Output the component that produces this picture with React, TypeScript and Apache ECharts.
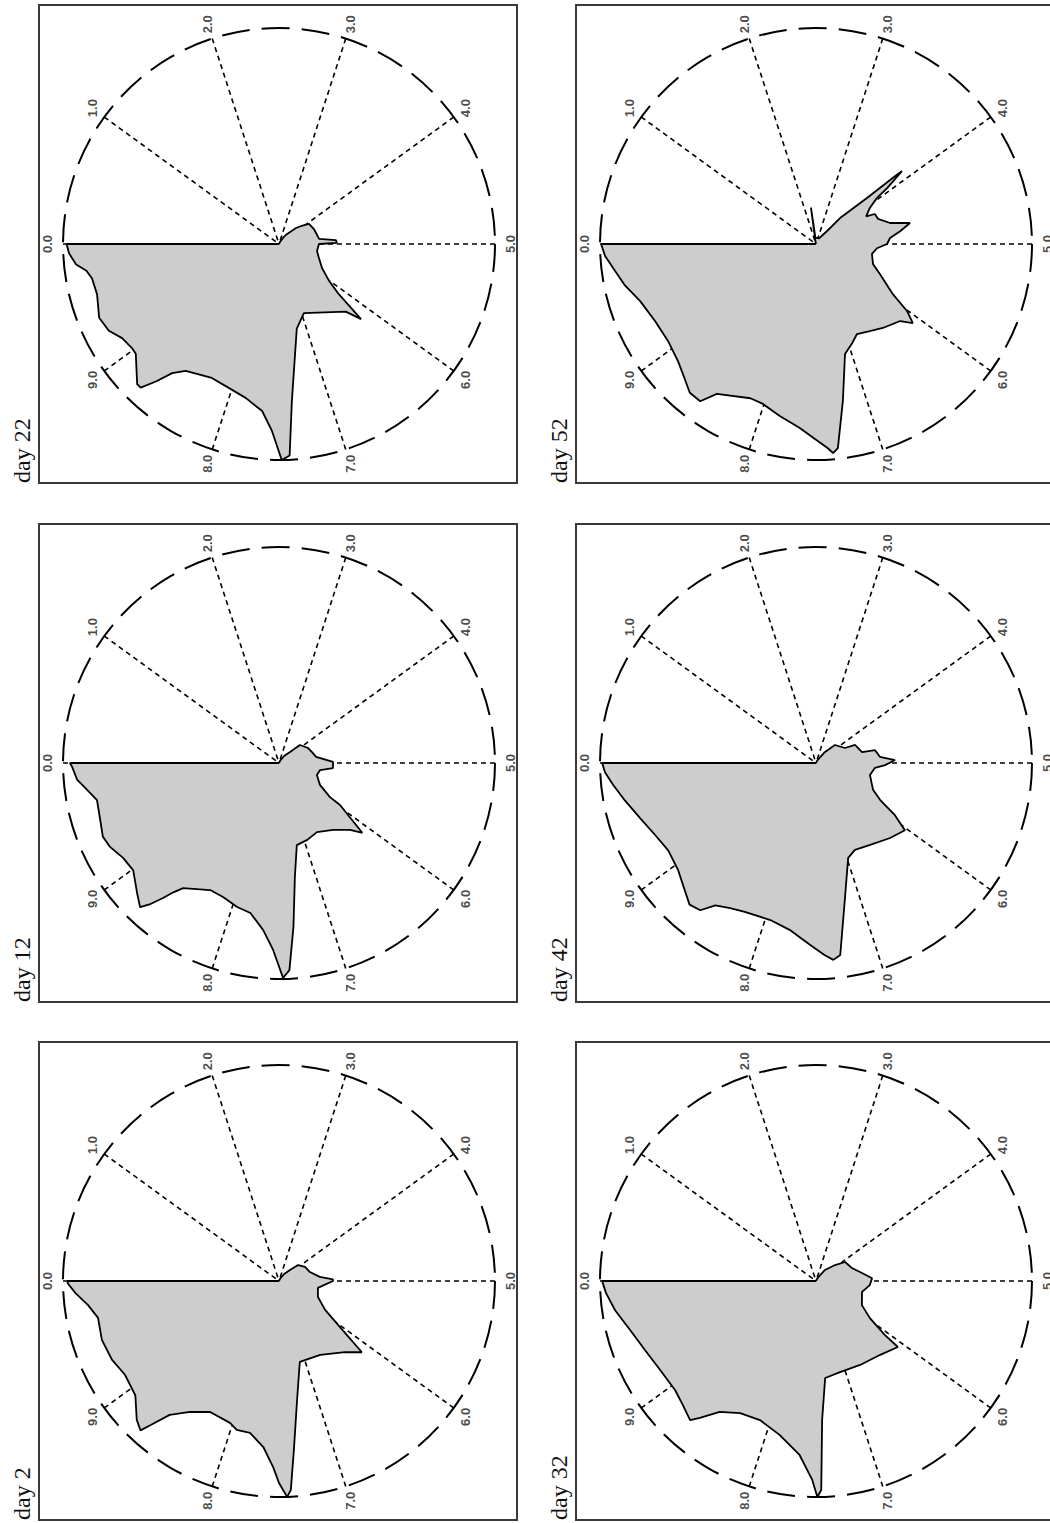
import React, { useEffect, useRef } from "react";
import * as echarts from "echarts";

// angle-axis ticks (0..10 around the circle, 0 at the left, clockwise)
const TICK_VALUES = [0, 1, 2, 3, 4, 5, 6, 7, 8, 9];
const TICK_LABELS = ["0.0", "1.0", "2.0", "3.0", "4.0", "5.0", "6.0", "7.0", "8.0", "9.0"];

// profiles: [angle value, radius (0..1)]
const day2: [number, number][] = [
  [0, 0], [3.2, 0.01], [3.5, 0.04], [3.75, 0.072], [3.89, 0.115], [4.21, 0.137], [4.55, 0.149],
  [4.84, 0.19], [4.95, 0.25], [5.0, 0.25], [5.28, 0.183], [5.62, 0.195], [5.89, 0.252], [6.03, 0.354],
  [6.13, 0.506], [6.31, 0.449], [6.69, 0.392], [7.1, 0.387], [7.26, 0.557], [7.36, 0.785],
  [7.41, 0.969], [7.44, 1.0], [7.5, 0.935], [7.55, 0.862], [7.65, 0.772], [7.8, 0.716],
  [7.94, 0.717], [8.03, 0.695], [8.27, 0.685], [8.45, 0.733], [8.59, 0.8], [8.66, 0.895],
  [8.69, 0.943], [8.77, 0.92], [8.93, 0.85], [9.13, 0.835], [9.3, 0.855], [9.49, 0.864],
  [9.68, 0.855], [9.8, 0.891], [9.91, 0.946], [9.98, 0.977], [10, 0.98], [10, 0],
];

const day12: [number, number][] = [
  [0, 0], [3.2, 0.01], [3.5, 0.04], [3.75, 0.072], [3.87, 0.128], [4.24, 0.151], [4.49, 0.161],
  [4.74, 0.174], [4.97, 0.25], [5.15, 0.251], [5.27, 0.193], [5.49, 0.184], [5.78, 0.215],
  [5.94, 0.284], [5.96, 0.343], [6.04, 0.413], [6.11, 0.503], [6.2, 0.452], [6.42, 0.398],
  [6.7, 0.365], [6.94, 0.379], [7.16, 0.389], [7.28, 0.533], [7.36, 0.762], [7.42, 0.96],
  [7.47, 0.995], [7.55, 0.866], [7.65, 0.777], [7.8, 0.707], [7.95, 0.694], [8.13, 0.672],
  [8.29, 0.669], [8.54, 0.73], [8.59, 0.773], [8.63, 0.824], [8.68, 0.888], [8.72, 0.927],
  [8.82, 0.891], [8.99, 0.838], [9.13, 0.845], [9.27, 0.874], [9.37, 0.884], [9.53, 0.867],
  [9.68, 0.86], [9.78, 0.898], [9.87, 0.938], [9.97, 0.958], [10, 0.968], [10, 0],
];

const day22: [number, number][] = [
  [0, 0], [3.2, 0.01], [3.45, 0.04], [3.58, 0.06], [3.8, 0.108], [3.91, 0.13], [4.06, 0.167],
  [4.36, 0.176], [4.54, 0.179], [4.8, 0.187], [4.89, 0.264], [4.97, 0.268], [5.0, 0.185],
  [5.29, 0.179], [5.54, 0.196], [5.81, 0.228], [6.01, 0.288], [6.11, 0.36], [6.18, 0.515],
  [6.26, 0.44], [6.95, 0.34], [7.17, 0.4], [7.37, 0.73], [7.42, 0.98], [7.48, 1.0],
  [7.56, 0.866], [7.66, 0.777], [7.84, 0.729], [8.03, 0.706], [8.24, 0.694], [8.51, 0.729],
  [8.6, 0.776], [8.66, 0.852], [8.72, 0.923], [8.76, 0.923], [8.96, 0.835], [9.02, 0.834],
  [9.14, 0.847], [9.25, 0.884], [9.38, 0.9], [9.57, 0.874], [9.71, 0.88], [9.78, 0.9],
  [9.84, 0.944], [9.93, 0.973], [9.98, 0.98], [10, 0.985], [10, 0],
];

const day32: [number, number][] = [
  [0, 0], [3.2, 0.01], [3.5, 0.04], [3.59, 0.066], [3.89, 0.115], [4.08, 0.161], [4.45, 0.177],
  [4.68, 0.208], [4.92, 0.26], [5.12, 0.25], [5.37, 0.219], [5.77, 0.24], [5.96, 0.303],
  [6.06, 0.406], [6.08, 0.487], [6.36, 0.453], [6.73, 0.439], [7.09, 0.436], [7.35, 0.451],
  [7.43, 0.644], [7.46, 0.968], [7.49, 1.0], [7.53, 0.921], [7.65, 0.809], [7.87, 0.732],
  [8.11, 0.694], [8.33, 0.705], [8.51, 0.752], [8.62, 0.831], [8.67, 0.869], [8.81, 0.842],
  [8.95, 0.825], [9.18, 0.831], [9.39, 0.854], [9.59, 0.89], [9.77, 0.94], [9.91, 0.974],
  [10, 0.99], [10, 0],
];

const day42: [number, number][] = [
  [0, 0], [3.2, 0.01], [3.5, 0.04], [3.59, 0.066], [3.79, 0.121], [4.24, 0.151], [4.31, 0.199],
  [4.63, 0.219], [4.66, 0.28], [4.85, 0.298], [4.94, 0.366], [5.05, 0.32], [5.13, 0.274],
  [5.35, 0.256], [5.7, 0.292], [5.83, 0.342], [5.93, 0.438], [6.03, 0.516], [6.26, 0.488],
  [6.57, 0.455], [6.83, 0.441], [6.98, 0.464], [7.17, 0.648], [7.3, 0.896], [7.36, 0.915],
  [7.43, 0.89], [7.55, 0.843], [7.75, 0.782], [7.95, 0.757], [8.21, 0.764], [8.35, 0.781],
  [8.48, 0.807], [8.56, 0.867], [8.66, 0.879], [8.78, 0.845], [8.95, 0.808], [9.15, 0.795],
  [9.33, 0.816], [9.52, 0.854], [9.69, 0.901], [9.83, 0.945], [9.93, 0.978], [10, 0.99], [10, 0],
];

const day52: [number, number][] = [
  [0, 0], [2.2, 0.02], [2.28, 0.17], [2.36, 0.03], [3.3, 0.03], [3.62, 0.079], [3.69, 0.164],
  [3.83, 0.318], [3.87, 0.47], [3.88, 0.522], [3.94, 0.419], [3.97, 0.354], [4.06, 0.3],
  [4.2, 0.265], [4.25, 0.306], [4.39, 0.31], [4.56, 0.356], [4.65, 0.446], [4.76, 0.394],
  [4.87, 0.344], [5.0, 0.329], [5.11, 0.283], [5.28, 0.263], [5.54, 0.28], [5.7, 0.327],
  [5.92, 0.425], [6.01, 0.523], [6.09, 0.579], [6.18, 0.528], [6.43, 0.497], [6.62, 0.474],
  [6.82, 0.458], [6.94, 0.488], [7.09, 0.527], [7.23, 0.737], [7.33, 0.95], [7.37, 0.971],
  [7.41, 0.946], [7.52, 0.898], [7.64, 0.855], [7.83, 0.814], [8.01, 0.78], [8.14, 0.776],
  [8.43, 0.832], [8.51, 0.904], [8.62, 0.903], [8.73, 0.871], [8.88, 0.838], [9.08, 0.819],
  [9.29, 0.826], [9.5, 0.856], [9.66, 0.905], [9.79, 0.939], [9.91, 0.978], [10, 0.995], [10, 0],
];

const TITLES = ["day 2", "day 12", "day 22", "day 32", "day 42", "day 52"];
const SERIES_DATA = [day2, day12, day22, day32, day42, day52];

// layout (pixels): panel centres, the figure is turned a quarter turn
const LAYOUT = [
  { cx: 279, cy: 1281 },
  { cx: 279, cy: 763 },
  { cx: 279, cy: 244 },
  { cx: 816, cy: 1281 },
  { cx: 816, cy: 763 },
  { cx: 816, cy: 244 },
];
const CIRCLE_R = 216;
const LABEL_R = 1.07;
const BOX = 478;

export default function App() {
  const ref = useRef<HTMLDivElement>(null);

  useEffect(() => {
    if (!ref.current) return;
    const chart = echarts.init(ref.current, undefined, { renderer: "svg" });

    const polar = LAYOUT.map((p) => ({ center: [p.cx, p.cy], radius: CIRCLE_R }));
    const angleAxis = LAYOUT.map((_, i) => ({
      polarIndex: i,
      type: "value",
      min: 0,
      max: 10,
      interval: 1,
      startAngle: 180,
      clockwise: true,
      axisLine: { show: true, lineStyle: { color: "#000", width: 2, type: [28, 12] } },
      axisTick: { show: false },
      axisLabel: { show: false },
      splitLine: { show: true, lineStyle: { color: "#000", width: 1.6, type: [5, 4] } },
    }));
    const radiusAxis = LAYOUT.map((_, i) => ({
      polarIndex: i,
      type: "value",
      min: 0,
      max: 1,
      axisLine: { show: false },
      axisTick: { show: false },
      axisLabel: { show: false },
      splitLine: { show: false },
    }));

    const series: any[] = [];
    SERIES_DATA.forEach((d, i) => {
      series.push({
        type: "line",
        coordinateSystem: "polar",
        polarIndex: i,
        data: d.map(([v, r]) => [r, v]),
        showSymbol: false,
        symbol: "none",
        clip: false,
        silent: true,
        lineStyle: { color: "#000", width: 1.8 },
        areaStyle: { color: "#cdcdcd", opacity: 1 },
        z: 3,
      });
      series.push({
        type: "scatter",
        coordinateSystem: "polar",
        polarIndex: i,
        clip: false,
        silent: true,
        symbolSize: 1,
        itemStyle: { color: "rgba(0,0,0,0)" },
        data: TICK_VALUES.map((v, k) => ({ value: [LABEL_R, v], name: TICK_LABELS[k] })),
        label: {
          show: true,
          position: "inside",
          rotate: 90,
          formatter: "{b}",
          fontSize: 13,
          fontWeight: "bold",
          fontFamily: "Liberation Sans Narrow, Liberation Sans",
          color: "#1a1a1a",
        },
        z: 4,
      });
    });

    const graphic: any[] = [];
    LAYOUT.forEach((p, i) => {
      const left = p.cx - 240;
      const top = p.cy - 239;
      graphic.push({
        type: "rect",
        shape: { x: left, y: top, width: BOX, height: BOX },
        style: { fill: "none", stroke: "#3a3a3a", lineWidth: 2 },
        silent: true,
      });
      graphic.push({
        type: "text",
        x: left - 17,
        y: top + BOX,
        rotation: Math.PI / 2,
        style: {
          text: TITLES[i],
          fontSize: 24,
          fontFamily: "Liberation Serif",
          fill: "#111",
          textAlign: "left",
          textVerticalAlign: "middle",
        },
        silent: true,
      });
    });

    chart.setOption({
      animation: false,
      polar,
      angleAxis,
      radiusAxis,
      series,
      graphic,
    });

    return () => chart.dispose();
  }, []);

  return (
    <div
      ref={ref}
      style={{ position: "absolute", left: 0, top: 0, width: 1050, height: 1523, background: "#fff" }}
    />
  );
}
